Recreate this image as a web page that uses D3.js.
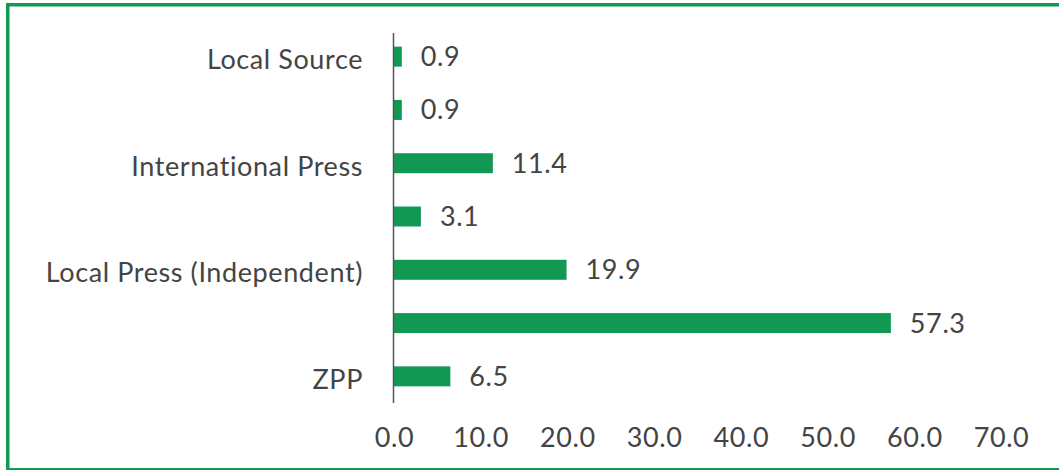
<!DOCTYPE html>
<html>
<head>
<meta charset="utf-8">
<script src="https://cdn.jsdelivr.net/npm/d3@7/dist/d3.min.js"></script>
<style>
  body { margin: 0; background: #fff; }
  svg { display: block; font-family: Lato, "Open Sans", sans-serif; letter-spacing: 0.6px; }
</style>
</head>
<body>
<div id="chart"></div>
<script>
// categories top to bottom, only every other one is labelled in the source
var categories = ["Local Source", "", "International Press", "", "Local Press (Independent)", "", "ZPP"];
var values = [0.9, 0.9, 11.4, 3.1, 19.9, 57.3, 6.5];
var ticks = [0, 10, 20, 30, 40, 50, 60, 70];

var width = 1059, height = 470;
var green = "#119853";
var textColor = "#444";

var svg = d3.select('#chart').append('svg')
  .attr('width', width)
  .attr('height', height);

// frame
svg.append('rect')
  .attr('x', 7.75).attr('y', 4.75)
  .attr('width', 1100).attr('height', 465)
  .attr('fill', 'none')
  .attr('stroke', green)
  .attr('stroke-width', 3.5);

var x = d3.scaleLinear().domain([0, 70]).range([394, 1001]);
var y = d3.scaleBand()
  .domain(d3.range(categories.length))
  .range([30, 403])
  .paddingInner(0.625)
  .paddingOuter(0.3125);

// bars
svg.selectAll('rect.bar')
  .data(values)
  .enter().append('rect')
    .attr('class', 'bar')
    .attr('x', x(0))
    .attr('y', function (d, i) { return y(i); })
    .attr('width', function (d) { return x(d) - x(0); })
    .attr('height', y.bandwidth())
    .attr('fill', green);

// value labels
svg.selectAll('text.val')
  .data(values)
  .enter().append('text')
    .attr('class', 'val')
    .attr('x', function (d) { return x(d) + 19; })
    .attr('y', function (d, i) { return y(i) + y.bandwidth() / 2 + 9.5; })
    .attr('fill', textColor)
    .style('font-size', '27px')
    .text(function (d) { return d.toFixed(1); });

// category labels
svg.selectAll('text.cat')
  .data(categories)
  .enter().append('text')
    .attr('class', 'cat')
    .attr('x', 363)
    .attr('y', function (d, i) { return y(i) + y.bandwidth() / 2 + 12.5; })
    .attr('text-anchor', 'end')
    .attr('fill', textColor)
    .style('font-size', '27px')
    .text(function (d) { return d; });

// x axis (labels only)
var xAxis = svg.append('g')
  .attr('transform', 'translate(0,403)')
  .call(d3.axisBottom(x).tickValues(ticks).tickSize(0).tickPadding(0)
    .tickFormat(function (d) { return d.toFixed(1); }));
xAxis.select('.domain').remove();
xAxis.selectAll('text')
  .attr('y', 43.5)
  .attr('dy', null)
  .attr('fill', textColor)
  .style('font-family', 'Lato, "Open Sans", sans-serif')
  .style('font-size', '27px');

// y axis line
svg.append('line')
  .attr('x1', 393.5).attr('x2', 393.5)
  .attr('y1', 33).attr('y2', 403)
  .attr('stroke', '#555')
  .attr('stroke-width', 1.5);
</script>
</body>
</html>
